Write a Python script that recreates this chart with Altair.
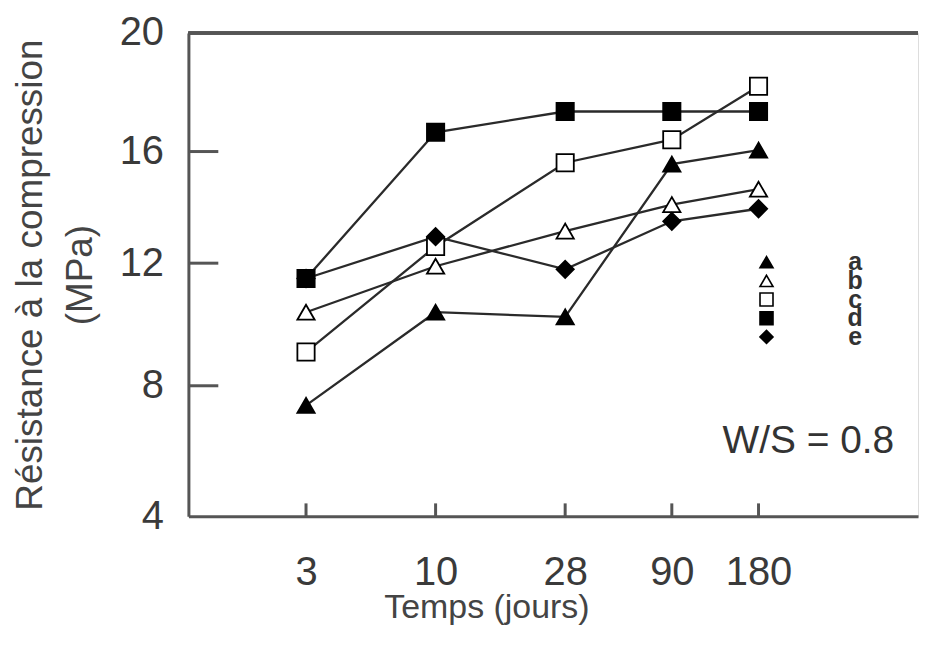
import altair as alt
import pandas as pd

# ---- data ----
days = [3, 10, 28, 90, 180]
series_names = ["a", "b", "c", "d", "e"]
val_a = [7.4, 10.4, 10.25, 15.55, 16.05]
val_b = [10.4, 11.9, 13.15, 14.1, 14.65]
val_c = [9.1, 12.6, 15.6, 16.4, 18.2]
val_d = [11.5, 16.65, 17.35, 17.35, 17.35]
val_e = [11.5, 12.95, 11.8, 13.5, 13.95]
y_ticks = [4, 8, 12, 16, 20]
annotation = "W/S = 0.8"

rows = []
for name, vals in zip(series_names, [val_a, val_b, val_c, val_d, val_e]):
    for d, v in zip(days, vals):
        rows.append({"jours": d, "resistance": v, "serie": name})
df = pd.DataFrame(rows)
legend_df = pd.DataFrame({"serie": series_names})

W, H = 732, 485
FONT = "Liberation Sans"
TXT = "#3a3a3a"
AX = "#555555"

x_scale = alt.Scale(domain=[0, 3, 10, 28, 90, 180, 360],
                    range=[0, 118, 248, 378, 485, 572, W], nice=False, zero=False)
y_scale = alt.Scale(domain=[4, 8, 12, 16, 20],
                    range=[H, 354, 231, 119, 0], nice=False, zero=False)
shape_scale = alt.Scale(domain=series_names,
                        range=["triangle-up", "triangle-up", "square", "square", "diamond"])
fill_scale = alt.Scale(domain=series_names,
                       range=["black", "white", "white", "black", "black"])

x_axis = alt.Axis(values=days, title="Temps (jours)", grid=False, ticks=False,
                  tickSize=0, labelPadding=36, labelFont=FONT,
                  labelFontSize=40, labelColor=TXT, titleFont=FONT,
                  titleFontSize=34, titleFontWeight="normal", titleColor="#444444",
                  titleX=299, titleY=91, titleAlign="center",
                  titleBaseline="middle", domainColor=AX, domainWidth=3,
                  labelFlush=False)
y_axis = alt.Axis(values=y_ticks, title=["Résistance à la compression", "(MPa)"],
                  grid=False, ticks=False, tickSize=0, labelPadding=25,
                  labelFont=FONT, labelFontSize=40, labelColor=TXT,
                  titleFont=FONT, titleFontSize=37,
                  titleFontWeight="normal", titleColor="#444444",
                  titleLineHeight=50, titlePadding=20, domainColor=AX,
                  domainWidth=3, labelFlush=False)

x_enc = alt.X("jours:Q", scale=x_scale, axis=x_axis)
y_enc = alt.Y("resistance:Q", scale=y_scale, axis=y_axis)

base = alt.Chart(df)

lines = base.mark_line(color="#2a2a2a", strokeWidth=2.3).encode(
    x=x_enc, y=y_enc, detail="serie:N")

points = base.mark_point(stroke="black", strokeWidth=1.8, opacity=1, fillOpacity=1,
                         size=300).encode(
    x=x_enc, y=y_enc,
    shape=alt.Shape("serie:N", scale=shape_scale, legend=None),
    fill=alt.Fill("serie:N", scale=fill_scale, legend=None),
)

tick_df = pd.DataFrame({"resistance": [8, 12, 16]})
y_ticks_marks = alt.Chart(tick_df).mark_rule(color=AX, strokeWidth=3).encode(
    y=y_enc, x=alt.value(0), x2=alt.value(30))

xt_df = pd.DataFrame({"jours": days})
x_ticks_marks = alt.Chart(xt_df).mark_rule(color=AX, strokeWidth=3).encode(
    x=x_enc, y=alt.value(H), y2=alt.value(H - 13))

top_line = alt.Chart(xt_df).mark_rule(color=AX, strokeWidth=3).encode(
    x=alt.value(0), x2=alt.value(W), y=alt.value(0))

note = alt.Chart(pd.DataFrame({"txt": [annotation]})).mark_text(
    font=FONT, fontSize=39, color="#333333", align="center",
    baseline="middle").encode(text="txt:N", x=alt.value(622), y=alt.value(409))

main = alt.layer(lines, points, y_ticks_marks, x_ticks_marks, top_line, note)

# legend drawn as its own small layer with a row scale
leg_y = alt.Y("serie:N", scale=alt.Scale(domain=series_names, range=[230, 305], padding=0),
              axis=None)
leg_sym = alt.Chart(legend_df).mark_point(stroke="black", strokeWidth=1.6, opacity=1,
                                           fillOpacity=1, size=170).encode(
    y=leg_y, x=alt.value(580),
    shape=alt.Shape("serie:N", scale=shape_scale, legend=None),
    fill=alt.Fill("serie:N", scale=fill_scale, legend=None))
leg_txt = alt.Chart(legend_df).mark_text(
    font=FONT, fontSize=25, fontWeight="bold", color="#333333", align="center",
    baseline="middle").encode(y=leg_y, x=alt.value(669), text="serie:N")
legend_layer = alt.layer(leg_sym, leg_txt)

chart = alt.layer(main, legend_layer).resolve_scale(y="independent").properties(
    width=W, height=H, padding={"left": 3, "top": 4, "right": 0, "bottom": 0}
).configure_view(stroke=None).configure(background="white")

chart.save("out.html", embed_options={"renderer": "svg", "actions": False})
